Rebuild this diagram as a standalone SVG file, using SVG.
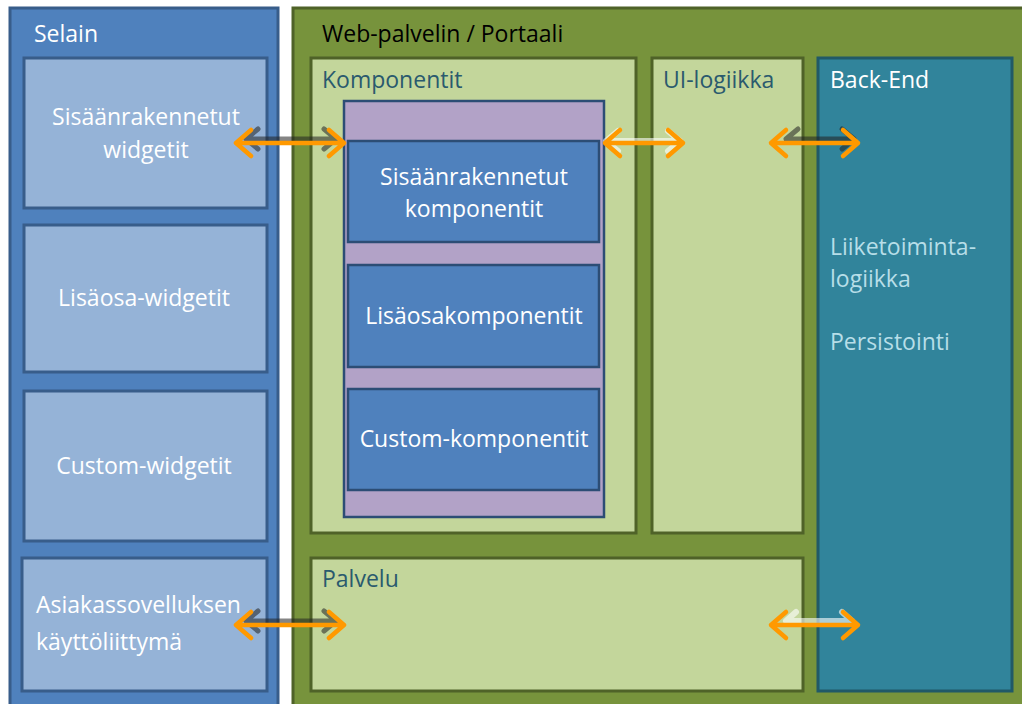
<svg xmlns="http://www.w3.org/2000/svg" width="1022" height="704" viewBox="0 0 1022 704">
<defs>
<style>
text{font-family:"Open Sans","DejaVu Sans",sans-serif;font-size:23px}
.outerB{fill:#4f81bd;stroke:#385d8a;stroke-width:3}
.outerG{fill:#77933c;stroke:#4f6228;stroke-width:3}
.lb{fill:#95b3d7;stroke:#385d8a;stroke-width:3}
.lg{fill:#c3d69b;stroke:#4f6228;stroke-width:3}
.pu{fill:#b2a2c7;stroke:#2c4d75;stroke-width:2.5}
.bl{fill:#4f81bd;stroke:#2c4d75;stroke-width:2.5}
.be{fill:#31849b;stroke:#215967;stroke-width:3}
.w{fill:#ffffff}
.t{fill:#2a5a6e}
.lt{fill:#b7dee8}
.arr{stroke:#ff9900;stroke-width:4.5;fill:none;stroke-linecap:round;stroke-linejoin:round}
.sh{stroke:#202020;stroke-opacity:0.55;stroke-width:5;fill:none;stroke-linecap:round;stroke-linejoin:round}
.shl{stroke:#ffffff;stroke-opacity:0.6;stroke-width:6;fill:none;stroke-linecap:round;stroke-linejoin:round}
</style>
</defs>
<rect x="0" y="0" width="1022" height="704" fill="#ffffff"/>
<g id="selain">
<rect class="outerB" x="10" y="8" width="268" height="710"/>
<text class="w" x="34" y="42">Selain</text>
</g>
<g id="sis-widgetit">
<rect class="lb" x="24" y="58" width="243" height="150"/>
<text class="w" x="146" y="125" text-anchor="middle">Sisäänrakennetut</text>
<text class="w" x="146" y="158" text-anchor="middle">widgetit</text>
</g>
<g id="lisaosa-widgetit">
<rect class="lb" x="24" y="225" width="243" height="147"/>
<text class="w" x="144" y="306" text-anchor="middle">Lisäosa-widgetit</text>
</g>
<g id="custom-widgetit">
<rect class="lb" x="24" y="391" width="243" height="150"/>
<text class="w" x="144" y="474" text-anchor="middle">Custom-widgetit</text>
</g>
<g id="asiakas">
<rect class="lb" x="22" y="558" width="245" height="133"/>
<text class="w" x="36" y="613">Asiakassovelluksen</text>
<text class="w" x="36" y="650">käyttöliittymä</text>
</g>
<g id="web">
<rect class="outerG" x="293" y="8" width="740" height="710"/>
<text x="322" y="42" fill="#000000">Web-palvelin / Portaali</text>
</g>
<g id="komponentit">
<rect class="lg" x="311" y="58" width="325" height="475"/>
<text class="t" x="322" y="88">Komponentit</text>
</g>
<g id="komp-container">
<rect class="pu" x="344" y="101" width="260" height="416"/>
</g>
<g id="sis-komp">
<rect class="bl" x="348" y="141" width="251" height="101"/>
<text class="w" x="474" y="185" text-anchor="middle">Sisäänrakennetut</text>
<text class="w" x="474" y="217" text-anchor="middle">komponentit</text>
</g>
<g id="lisaosakomp">
<rect class="bl" x="348" y="265" width="251" height="102"/>
<text class="w" x="474" y="324" text-anchor="middle">Lisäosakomponentit</text>
</g>
<g id="custom-komp">
<rect class="bl" x="348" y="389" width="251" height="101"/>
<text class="w" x="474" y="447" text-anchor="middle">Custom-komponentit</text>
</g>
<g id="ui-logiikka">
<rect class="lg" x="652" y="58" width="151" height="475"/>
<text class="t" x="663" y="88">UI-logiikka</text>
</g>
<g id="palvelu">
<rect class="lg" x="311" y="558" width="492" height="133"/>
<text class="t" x="322" y="587">Palvelu</text>
</g>
<g id="backend">
<rect class="be" x="818" y="58" width="194" height="633"/>
<text class="w" x="830" y="88">Back-End</text>
<text class="lt" x="830" y="255">Liiketoiminta-</text>
<text class="lt" x="830" y="287">logiikka</text>
<text class="lt" x="830" y="350">Persistointi</text>
</g>
<g id="connectors">
<path class="sh" d="M248 139 L336 139 M258 129 L246 139 L258 149 M324 129 L336 139 L324 149"/>
<path class="arr" d="M236 143 L344 143 M251 130 L236 143 L251 156 M329 130 L344 143 L329 156"/>
<path class="shl" d="M606 141 L680 141 M618 131 L606 141 L618 151 M668 131 L680 141 L668 151"/>
<path class="arr" d="M605 143 L683 143 M620 130 L605 143 L620 156 M668 130 L683 143 L668 156"/>
<path class="sh" d="M786 139 L854 139 M798 129 L786 139 M842 129 L854 139 L842 149"/>
<path class="arr" d="M771 143 L858 143 M786 130 L771 143 L786 156 M843 130 L858 143 L843 156"/>
<path class="sh" d="M248 621 L336 621 M258 611 L246 621 L258 631 M324 611 L336 621 L324 631"/>
<path class="arr" d="M236 625 L344 625 M251 612 L236 625 L251 638 M329 612 L344 625 L329 638"/>
<path class="shl" d="M786 621 L852 621 M796 612 L786 621 M842 612 L852 621"/>
<path class="arr" d="M771 625 L858 625 M786 612 L771 625 L786 638 M843 612 L858 625 L843 638"/>
</g>
</svg>
